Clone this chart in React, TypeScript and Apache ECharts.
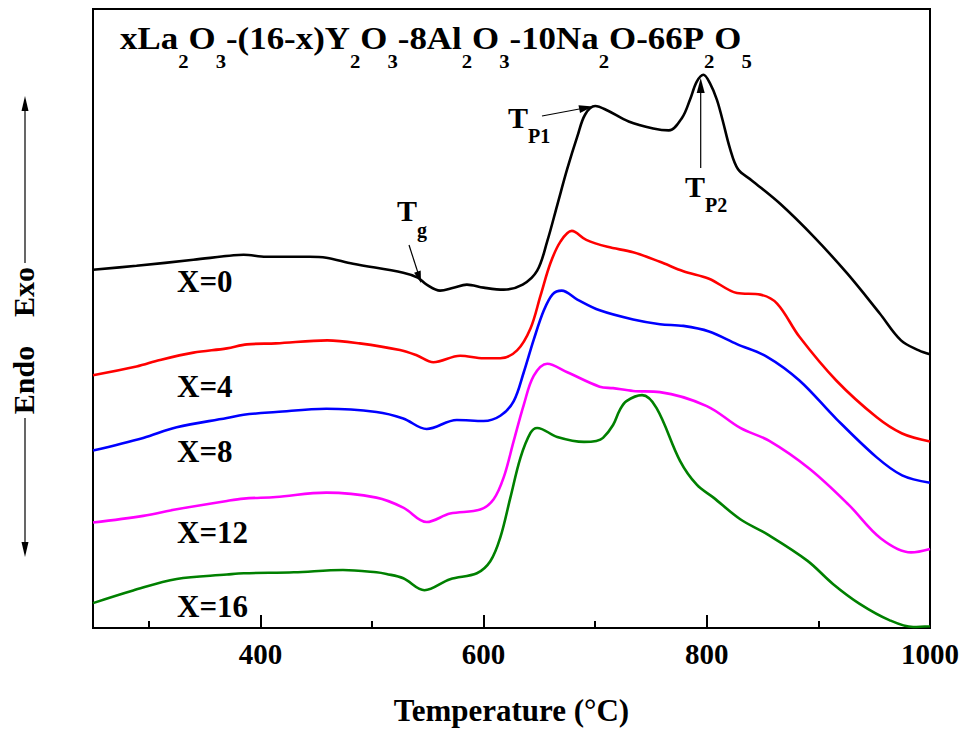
import React, { useEffect, useRef } from "react";
import * as echarts from "echarts";

// Temperatures (°C) and DSC signal (arbitrary units, offset per curve)
const tX0 = [250, 289, 340, 376, 385, 405, 444, 459, 483, 528, 541, 549, 561, 573, 585, 600, 618, 635, 648, 657, 666, 675, 684, 691, 700, 711, 730, 752, 766, 778, 785, 791, 797, 803, 809, 814, 821, 828, 840, 866, 896, 926, 955, 974, 990, 1000];
const vX0 = [360, 364, 370, 374.5, 375, 373, 373, 372, 366, 357, 352, 345, 339, 342, 345, 342, 340, 345, 359, 388.5, 425, 461.5, 494, 516, 524.5, 520, 509, 502, 500, 513, 531, 549, 556, 547, 531, 511, 481, 461, 450, 426, 393, 356, 316, 289, 279, 275];

const tX4 = [250, 289, 310, 340, 370, 388, 414, 460, 489, 525, 540, 555, 579, 600, 615, 630, 642, 651, 660, 669, 679, 692, 711, 734, 758, 779, 802, 827, 848, 863, 883, 916, 952, 975, 1000];
const vX4 = [254, 262.7, 269.3, 276.7, 281, 285, 286, 289, 286, 279.3, 274, 267, 273.5, 271, 271, 279, 301, 334, 367, 388.5, 399, 390, 383, 377.6, 368, 358.5, 351, 336.6, 335, 326, 292.6, 248.7, 212, 195.5, 187.5];

const tX8 = [250, 295, 325, 370, 385, 414, 459, 504, 528, 549, 576, 600, 615, 627, 636, 645, 654, 662, 670, 684, 704, 734, 758, 779, 802, 827, 854, 883, 916, 952, 975, 1000];
const vX8 = [178.3, 191, 201.7, 211, 214.3, 217, 220.3, 217, 210.5, 200, 209, 208, 213.3, 228, 257, 290, 319.2, 335.6, 339, 330, 319.2, 310, 305.3, 303.6, 298, 285.3, 272.5, 248.7, 210.2, 171.7, 153.4, 146];

const tX12 = [250, 295, 325, 370, 385, 414, 459, 504, 528, 549, 570, 597, 609, 618, 627, 636, 645, 657, 675, 704, 716, 734, 758, 800, 830, 856, 892, 927, 956, 983, 1000];
const vX12 = [106, 112.7, 119.3, 127.7, 130, 131.7, 136, 131, 121, 106.5, 115, 119, 129.4, 151.3, 188, 224.3, 253.5, 265.5, 257, 242.5, 241, 238.2, 237, 223, 201, 188, 160, 124, 90, 76, 79.5];

const tX16 = [250, 286, 325, 370, 385, 430, 474, 504, 513, 528, 547, 570, 594, 606, 615, 624, 633, 642, 648, 666, 690, 701, 707, 716, 722, 728, 742, 755, 776, 791, 806, 830, 854, 890, 913, 937, 964, 985, 1000];
const vX16 = [25, 37.7, 49.3, 53.7, 55, 56, 58.3, 56, 54.3, 50, 38, 49, 55, 67, 91, 131, 171, 196, 201, 192, 187, 188, 191, 204, 219, 228, 234, 221, 168, 144, 131, 109.3, 94.3, 67.7, 44.3, 24.3, 7.7, 1, 1.7];

const seriesNames = ["X=0", "X=4", "X=8", "X=12", "X=16"];
const seriesColors = ["#000000", "#ff0000", "#0000ff", "#ff00ff", "#008000"];
const seriesT = [tX0, tX4, tX8, tX12, tX16];
const seriesV = [vX0, vX4, vX8, vX12, vX16];

const majorTicks = [400, 600, 800, 1000];
const minorTicks = [300, 500, 700, 900];

const FONT = "'Liberation Serif', 'Times New Roman', serif";

function subLabel(main: string, sub: string) {
  return `{m|${main}}{s|${sub}}`;
}

export default function App() {
  const ref = useRef<HTMLDivElement>(null);
  useEffect(() => {
    if (!ref.current) return;
    const chart = echarts.init(ref.current, undefined, { renderer: "svg" });

    const series = seriesNames.map((name, i) => ({
      name,
      type: "line",
      xAxisIndex: 0,
      yAxisIndex: 0,
      data: seriesT[i].map((t, j) => [t, seriesV[i][j]]),
      showSymbol: false,
      smooth: 0.35,
      lineStyle: { color: seriesColors[i], width: 2.6 },
      itemStyle: { color: seriesColors[i] },
    }));

    const richMain = { fontSize: 30, fontWeight: "bold", fontFamily: FONT, lineHeight: 40, verticalAlign: "top", fill: "#000" };
    const richSub = { fontSize: 20, fontWeight: "bold", fontFamily: FONT, lineHeight: 10, padding: [24, 0, 0, 0], verticalAlign: "top", fill: "#000" };
    const richTitleMain = { ...richMain, fontSize: 32 };
    const richSubTitle = { fontSize: 19, fontWeight: "bold", fontFamily: FONT, lineHeight: 10, padding: [30, 0, 0, 0], verticalAlign: "top", fill: "#000" };

    const titleText =
      "{m|xLa}{s|2}{m|O}{s|3}{m|-(16-x)Y}{s|2}{m|O}{s|3}{m|-8Al}{s|2}{m|O}{s|3}{m|-10Na}{s|2}{m|O-66P}{s|2}{m|O}{s|5}";

    const lineLabels = [
      { text: "X=0", y: 281 },
      { text: "X=4", y: 386 },
      { text: "X=8", y: 451 },
      { text: "X=12", y: 532.5 },
      { text: "X=16", y: 606 },
    ];

    const arrowStyle = { stroke: "#000", lineWidth: 1.2 };

    chart.setOption({
      animation: false,
      backgroundColor: "#fff",
      grid: {
        left: 93,
        right: 32,
        top: 9,
        bottom: 100,
        show: true,
        borderColor: "#000",
        borderWidth: 2,
        backgroundColor: "transparent",
      },
      xAxis: [
        {
          type: "value",
          min: 250,
          max: 1000,
          position: "bottom",
          name: "Temperature (°C)",
          nameLocation: "middle",
          nameGap: 67,
          nameTextStyle: { fontSize: 31, fontWeight: "bold", fontFamily: FONT, color: "#000" },
          axisLine: { show: true, lineStyle: { color: "#000", width: 2 } },
          axisTick: { show: true, inside: true, length: 13, lineStyle: { color: "#000", width: 2 }, customValues: majorTicks },
          axisLabel: {
            show: true,
            margin: 11,
            fontSize: 29,
            fontWeight: "bold",
            fontFamily: FONT,
            color: "#000",
            customValues: majorTicks,
            formatter: (v: number) => String(v),
          },
          splitLine: { show: false },
        },
        {
          type: "value",
          min: 250,
          max: 1000,
          position: "bottom",
          axisLine: { show: false },
          axisTick: { show: true, inside: true, length: 7, lineStyle: { color: "#000", width: 2 }, customValues: minorTicks },
          axisLabel: { show: false },
          splitLine: { show: false },
        },
      ],
      yAxis: {
        type: "value",
        min: 0,
        max: 622,
        axisLine: { show: true, lineStyle: { color: "#000", width: 2 } },
        axisTick: { show: false },
        axisLabel: { show: false },
        splitLine: { show: false },
      },
      series,
      graphic: [
        {
          type: "text",
          x: 120,
          y: 22,
          scaleX: 1.09,
          style: {
            text: titleText,
            rich: { m: richTitleMain, s: richSubTitle },
            verticalAlign: "top",
            align: "left",
          },
        },
        { type: "text", x: 397, y: 195, style: { text: subLabel("T", "g"), rich: { m: richMain, s: { ...richSub, padding: [25, 0, 0, 0] } }, verticalAlign: "top", align: "left" } },
        { type: "text", x: 508, y: 102, style: { text: subLabel("T", "P1"), rich: { m: richMain, s: richSub }, verticalAlign: "top", align: "left" } },
        { type: "text", x: 685, y: 171, style: { text: subLabel("T", "P2"), rich: { m: richMain, s: richSub }, verticalAlign: "top", align: "left" } },
        // Tg arrow
        { type: "line", shape: { x1: 409, y1: 245, x2: 419, y2: 276 }, style: arrowStyle },
        { type: "polygon", shape: { points: [[421, 283], [414.1, 272.7], [420.7, 270.6]] }, style: { fill: "#000" } },
        // TP1 arrow
        { type: "line", shape: { x1: 542, y1: 116, x2: 582, y2: 108.5 }, style: arrowStyle },
        { type: "polygon", shape: { points: [[593, 106.5], [580, 113], [578.5, 105.2]] }, style: { fill: "#000" } },
        // TP2 arrow
        { type: "line", shape: { x1: 700.7, y1: 168, x2: 700.7, y2: 90 }, style: arrowStyle },
        { type: "polygon", shape: { points: [[700.7, 78], [696.7, 93], [704.7, 93]] }, style: { fill: "#000" } },
        // curve labels
        ...lineLabels.map((l) => ({
          type: "text",
          x: 177,
          y: l.y,
          style: { text: l.text, fontSize: 31, fontWeight: "bold", fontFamily: FONT, fill: "#000", verticalAlign: "middle", align: "left" },
        })),
        // Exo / Endo
        {
          type: "text",
          x: 23,
          y: 292,
          rotation: Math.PI / 2,
          style: { text: "Exo", fontSize: 30, fontWeight: "bold", fontFamily: FONT, fill: "#000", align: "center", verticalAlign: "middle" },
        },
        {
          type: "text",
          x: 23,
          y: 380,
          rotation: Math.PI / 2,
          style: { text: "Endo", fontSize: 30, fontWeight: "bold", fontFamily: FONT, fill: "#000", align: "center", verticalAlign: "middle" },
        },
        { type: "line", shape: { x1: 25, y1: 108, x2: 25, y2: 263 }, style: arrowStyle },
        { type: "polygon", shape: { points: [[25, 96], [21.5, 111], [28.5, 111]] }, style: { fill: "#000" } },
        { type: "line", shape: { x1: 25, y1: 418, x2: 25, y2: 545 }, style: arrowStyle },
        { type: "polygon", shape: { points: [[25, 557], [21.5, 542], [28.5, 542]] }, style: { fill: "#000" } },
      ],
    });

    return () => chart.dispose();
  }, []);

  return (
    <div
      ref={ref}
      style={{ position: "fixed", left: 0, top: 0, width: 962, height: 731, background: "#fff" }}
    />
  );
}
